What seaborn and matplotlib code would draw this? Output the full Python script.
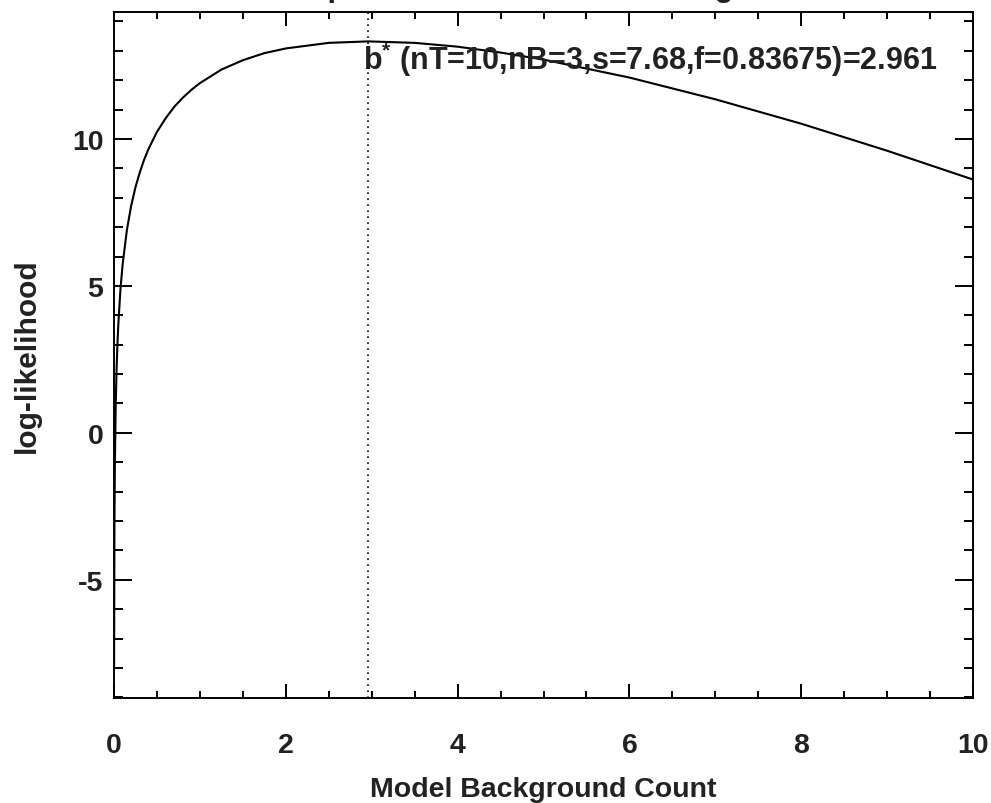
import matplotlib
matplotlib.use("Agg")
import matplotlib.pyplot as plt
from matplotlib.ticker import MultipleLocator
import seaborn as sns
import pandas as pd

# Model background count b and the log-likelihood
background = [0.001, 0.005, 0.01, 0.02, 0.03, 0.04, 0.05, 0.075, 0.1, 0.15,
              0.2, 0.25, 0.3, 0.35, 0.4, 0.5, 0.6, 0.7, 0.8, 0.9,
              1.0, 1.25, 1.5, 1.75, 2.0, 2.5, 2.961, 3.5, 4.0, 4.5,
              5.0, 6.0, 7.0, 8.0, 9.0, 10.0]
log_likelihood = [-8.02, -3.19, -1.12, 0.96, 2.16, 3.02, 3.68, 4.88, 5.72, 6.90,
                  7.73, 8.36, 8.86, 9.29, 9.65, 10.24, 10.70, 11.09, 11.40, 11.67,
                  11.90, 12.36, 12.68, 12.92, 13.08, 13.27, 13.32, 13.27, 13.14, 12.94,
                  12.70, 12.09, 11.35, 10.52, 9.60, 8.62]

b_best = 2.961
annotation = r"b$^{*}$ (nT=10,nB=3,s=7.68,f=0.83675)=2.961"
title_text = "Comparison of the model background"
x_label = "Model Background Count"
y_label = "log-likelihood"
x_ticks = [0, 2, 4, 6, 8, 10]
y_ticks = [-5, 0, 5, 10]

df = pd.DataFrame({"b": background, "logL": log_likelihood})

sns.set_theme(style="ticks")
plt.rcParams["font.family"] = ["Liberation Sans", "DejaVu Sans"]
plt.rcParams["font.weight"] = "bold"
plt.rcParams["axes.unicode_minus"] = False
plt.rcParams["mathtext.fontset"] = "custom"
plt.rcParams["mathtext.rm"] = "Liberation Sans:bold"
plt.rcParams["mathtext.it"] = "Liberation Sans:bold"
plt.rcParams["mathtext.bf"] = "Liberation Sans:bold"

TEXT = "#222222"

fig = plt.figure(figsize=(9.91, 8.04), dpi=100)
ax = fig.add_axes([114 / 991, 1 - 699 / 804, 859 / 991, 686 / 804])

sns.lineplot(data=df, x="b", y="logL", sort=False, estimator=None,
             color="black", linewidth=1.5, ax=ax)
ax.axvline(b_best, color="black", linewidth=1.2, linestyle=(0, (1, 2.6)))

ymin = min(log_likelihood) - 1
ymax = max(log_likelihood) + 1
ax.set_xlim(0, 10)
ax.set_ylim(ymin, ymax)

ax.set_xticks(x_ticks)
ax.set_yticks(y_ticks)
ax.xaxis.set_minor_locator(MultipleLocator(0.5))
ax.yaxis.set_minor_locator(MultipleLocator(1))
ax.set_xticklabels([str(t) for t in x_ticks])
ax.set_yticklabels([str(t) for t in y_ticks])

for s in ax.spines.values():
    s.set_linewidth(1.4)
    s.set_color("black")

ax.tick_params(which="both", direction="in", top=True, right=True,
               width=1.4, color="black", labelcolor=TEXT, labelsize=20.5)
ax.tick_params(axis="x", which="major", length=10, pad=24.5)
ax.tick_params(axis="x", which="minor", length=5)
ax.tick_params(axis="y", which="major", length=12.7, pad=7.7)
ax.tick_params(axis="y", which="minor", length=6.3)
for lab in ax.get_xticklabels() + ax.get_yticklabels():
    lab.set_fontweight("bold")

ax.set_xlabel(x_label, fontsize=20.5, fontweight="bold", color=TEXT)
ax.set_ylabel(y_label, fontsize=21.5, fontweight="bold", color=TEXT)
ax.xaxis.set_label_coords(0.5, -(777 - 699) / 686)
ax.yaxis.set_label_coords((41 - 114) / 859, 0.5)

# label of the best-fit background
ax.text(2.9, 12.38, annotation, fontsize=22, fontweight="bold",
        color=TEXT, ha="left", va="baseline")

fig.text(0.545, 1 + 3.5 / 804, title_text, fontsize=22.5, fontweight="bold",
         color=TEXT, ha="center", va="baseline")

fig.savefig("out.png", dpi=100, facecolor="white")
